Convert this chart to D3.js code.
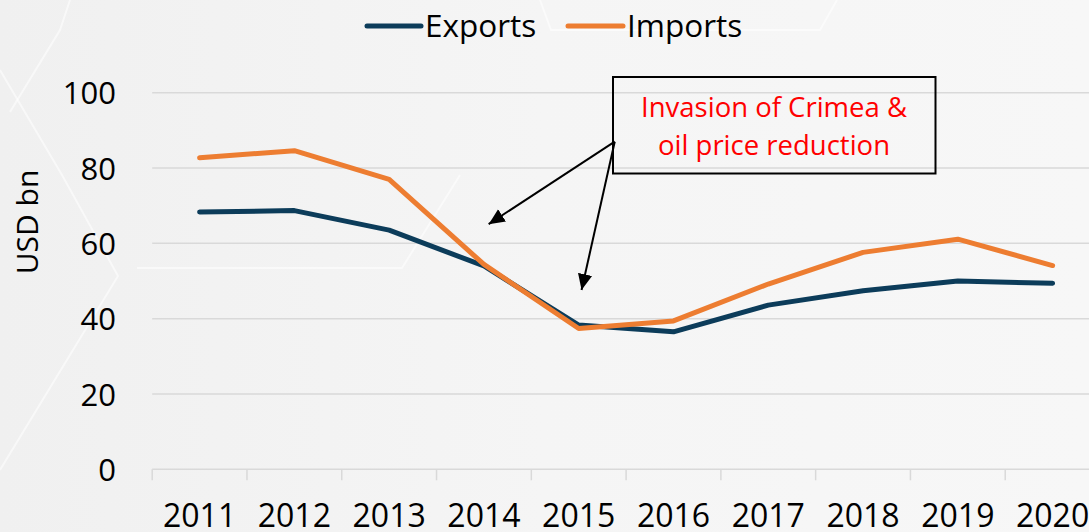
<!DOCTYPE html>
<html><head><meta charset="utf-8">
<script src="https://cdn.jsdelivr.net/npm/d3@7"></script>
<style>
html,body{margin:0;padding:0;background:#f5f5f5;}
svg{display:block;font-family:"Open Sans",sans-serif;}
</style></head>
<body>
<svg id="c" width="1089" height="532"></svg>
<script>
const years = ["2011","2012","2013","2014","2015","2016","2017","2018","2019","2020"];
const exportsData = [68.3, 68.7, 63.5, 54.0, 38.3, 36.5, 43.6, 47.4, 50.0, 49.4];
const importsData = [82.7, 84.6, 77.0, 54.4, 37.4, 39.4, 49.2, 57.6, 61.1, 54.1];
const yTicks = [0, 20, 40, 60, 80, 100];
const seriesNames = ["Exports", "Imports"];
const seriesColors = ["#0c3c5a", "#ed7d31"];
const annotationLines = ["Invasion of Crimea &", "oil price reduction"];
// arrow anchor positions in data units: [year index, value]
const arrowStart = [4.38, 87.0];
const arrowTargets = [[3.05, 65.1], [4.03, 47.6]];

const svg = d3.select("#c");
const W = 1089, H = 532;

// background
const defs = svg.append("defs");
const g0 = defs.append("linearGradient").attr("id","bg").attr("x1","0").attr("x2","1").attr("y1","0").attr("y2","0");
g0.append("stop").attr("offset","0").attr("stop-color","#f0f0f0");
g0.append("stop").attr("offset","0.5").attr("stop-color","#f5f5f5");
g0.append("stop").attr("offset","1").attr("stop-color","#f7f7f7");
svg.append("rect").attr("width",W).attr("height",H).attr("fill","url(#bg)");
const deco = [
  [[0,470],[118,276],[62,175],[0,70]],
  [[137,268],[402,268],[460,175]],
  [[540,0],[551,30],[820,30],[837,0]],
  [[10,112],[60,30],[70,0]]
];
svg.append("g").selectAll("path").data(deco).join("path")
  .attr("d", d => d3.line()(d)).attr("fill","none")
  .attr("stroke","#ffffff").attr("stroke-width",2).attr("opacity",0.55);

const x = d3.scaleBand().domain(years).range([152.2, 1100]).padding(0);
const xc = d => x(d) + x.bandwidth()/2;
const xi = d3.scaleLinear().domain([0, years.length-1]).range([xc(years[0]), xc(years[years.length-1])]);
const y = d3.scaleLinear().domain([0, 100]).range([469.3, 92.7]);

// gridlines
svg.append("g").selectAll("line").data(yTicks.filter(v=>v>0)).join("line")
  .attr("x1",152.2).attr("x2",W).attr("y1",d=>y(d)).attr("y2",d=>y(d))
  .attr("stroke","#d9d9d9").attr("stroke-width",1.5);

// x axis
const xAxis = svg.append("g").attr("transform",`translate(0,${y(0)})`)
  .call(d3.axisBottom(x).tickSize(0).tickPadding(0));
xAxis.select(".domain").attr("stroke","#d9d9d9").attr("stroke-width",1.5).attr("d",`M152.2,0H${W}`);
xAxis.selectAll(".tick text").attr("font-size",32).attr("fill","#000").attr("font-family","'Open Sans',sans-serif")
  .attr("dy",null).attr("y",58);
svg.append("g").selectAll("line").data(years.concat(["end"])).join("line")
  .attr("x1",(d,i)=>152.2 + i*x.bandwidth()).attr("x2",(d,i)=>152.2 + i*x.bandwidth())
  .attr("y1",y(0)).attr("y2",y(0)+11).attr("stroke","#d9d9d9").attr("stroke-width",1.5);

// y axis
const yAxis = svg.append("g").attr("transform","translate(116,0)")
  .call(d3.axisLeft(y).tickValues(yTicks).tickSize(0).tickPadding(0));
yAxis.select(".domain").remove();
yAxis.selectAll(".tick text").attr("font-size",31).attr("fill","#000").attr("font-family","'Open Sans',sans-serif")
  .attr("dy","0.36em");

svg.append("text").attr("transform","translate(38,222) rotate(-90)")
  .attr("text-anchor","middle").attr("font-size",30).attr("fill","#000").text("USD bn");

// lines
const line = d3.line().x((d,i)=>xc(years[i])).y(d=>y(d));
[exportsData, importsData].forEach((s,k)=>{
  svg.append("path").datum(s).attr("d",line).attr("fill","none")
    .attr("stroke",seriesColors[k]).attr("stroke-width",5)
    .attr("stroke-linejoin","round").attr("stroke-linecap","round");
});

// legend
const legendPos = [[367, 421, 425], [568, 623, 627]];
seriesNames.forEach((n,k)=>{
  const [a,b,t] = legendPos[k];
  svg.append("line").attr("x1",a).attr("x2",b).attr("y1",26).attr("y2",26)
    .attr("stroke",seriesColors[k]).attr("stroke-width",5).attr("stroke-linecap","round");
  svg.append("text").attr("x",t).attr("y",37).attr("font-size",31.5).attr("fill","#000").text(n);
});

// annotation box
svg.append("rect").attr("x",613).attr("y",77).attr("width",322.5).attr("height",96.5)
  .attr("fill","none").attr("stroke","#000").attr("stroke-width",2);
annotationLines.forEach((t,i)=>{
  svg.append("text").attr("x",774).attr("y",117 + i*38).attr("text-anchor","middle")
    .attr("font-size",27.5).attr("fill","#ff0000").text(t);
});

// arrows
defs.append("marker").attr("id","ah").attr("viewBox","0 0 10 10").attr("refX",10).attr("refY",5)
  .attr("markerWidth",8).attr("markerHeight",8).attr("markerUnits","strokeWidth").attr("orient","auto")
  .append("path").attr("d","M0,0.5L10,5L0,9.5z").attr("fill","#000");
arrowTargets.forEach(tg=>{
  svg.append("line").attr("x1",xi(arrowStart[0])).attr("y1",y(arrowStart[1]))
    .attr("x2",xi(tg[0])).attr("y2",y(tg[1])).attr("stroke","#000").attr("stroke-width",2)
    .attr("marker-end","url(#ah)");
});
</script>
</body></html>
